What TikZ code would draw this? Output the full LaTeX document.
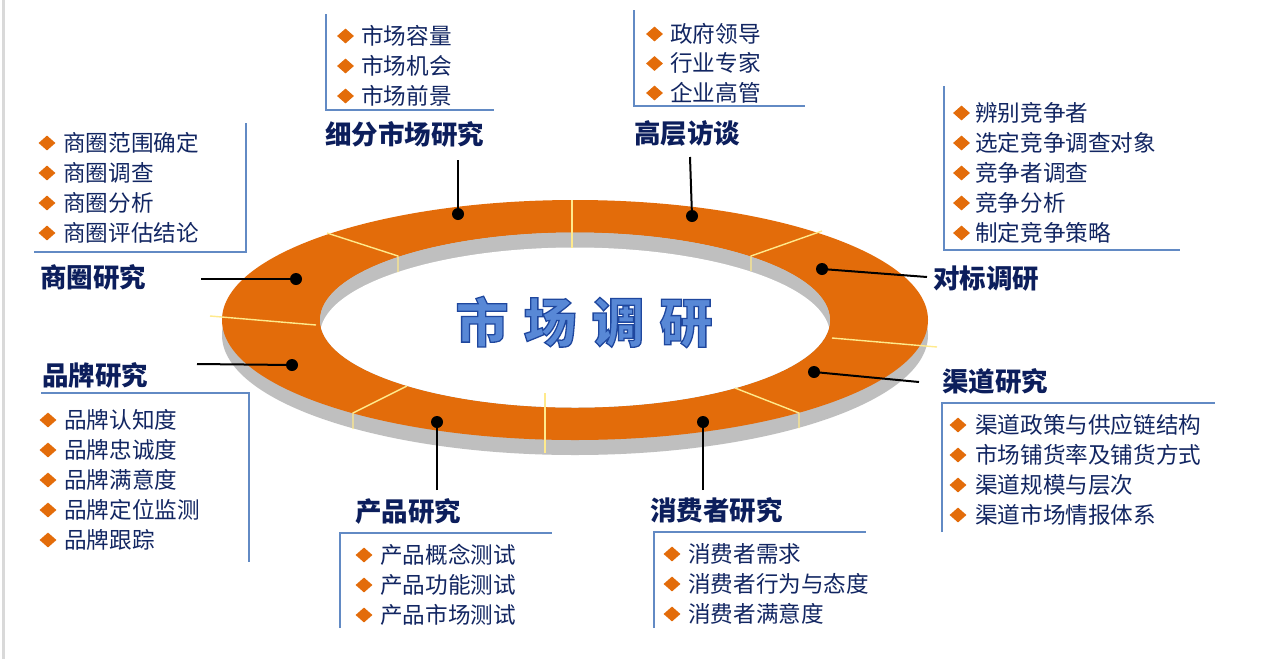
\documentclass[tikz,border=0pt]{standalone}
\usepackage{fontspec}
\setmainfont{Noto Sans CJK SC}
\newfontfamily\cjk{Noto Sans CJK SC}
\usetikzlibrary{shapes.geometric}
\definecolor{ringorange}{RGB}{227,108,10}
\definecolor{ringgray}{RGB}{191,191,191}
\definecolor{divyellow}{RGB}{255,234,140}
\definecolor{boxblue}{RGB}{98,138,196}
\definecolor{navy}{RGB}{18,38,98}
\definecolor{headnavy}{RGB}{12,30,92}
\definecolor{titleblue}{RGB}{88,136,214}
\definecolor{framegray}{RGB}{217,217,217}
\newcommand{\outlinedtext}[1]{\special{pdf:literal direct q 2 Tr 1.3 w 0.12 0.28 0.62 RG}#1\special{pdf:literal direct Q}}
\tikzset{
  item/.style={anchor=west, inner sep=0pt, text=navy, font=\cjk\fontsize{22.6}{26}\selectfont, text height=19pt, text depth=3pt},
  head/.style={anchor=west, inner sep=0pt, text=headnavy, font=\cjk\bfseries\fontsize{26.5}{30}\selectfont, text height=23pt, text depth=3pt},
  dia/.style={diamond, fill=ringorange, inner sep=0pt, minimum width=17pt, minimum height=15pt},
  dot/.style={circle, fill=black, inner sep=0pt, minimum size=12pt},
  conn/.style={line width=2pt, black},
  boxline/.style={line width=1.5pt, boxblue},
  divider/.style={line width=1.4pt, divyellow},
  title/.style={inner sep=0pt, text=titleblue, font=\cjk\bfseries\fontsize{53}{56}\selectfont}
}
\begin{document}
\begin{tikzpicture}[x=1pt,y=-1pt]
\useasboundingbox (0,0) rectangle (1263,659);
\fill[white] (0,0) rectangle (1263,659);
\draw[framegray, line width=3pt] (3,0) -- (3,659);

% ring
\fill[ringgray] (575,335) ellipse [x radius=353pt, y radius=120pt];
\fill[ringorange, even odd rule] (575,320) ellipse [x radius=353pt, y radius=120pt]
     (575,320) ellipse [x radius=255pt, y radius=87.5pt];
\fill[ringgray] (575,320) ellipse [x radius=255pt, y radius=87.5pt];
\begin{scope}
  \clip (575,320) ellipse [x radius=255pt, y radius=87.5pt];
  \fill[white] (575,335) ellipse [x radius=255pt, y radius=87.5pt];
\end{scope}

% dividers
\draw[divider] (572,200) -- (572,248);
\draw[divider] (327,233) -- (398,256) -- (398,272);
\draw[divider] (210,316) -- (316,325);
\draw[divider] (822,231) -- (751,256) -- (751,271);
\draw[divider] (832,338) -- (937,347);
\draw[divider] (735,388) -- (799,413) -- (799,428);
\draw[divider] (545,393) -- (545,453);
\draw[divider] (407,386) -- (353,413) -- (353,429);

% title
\node[title] (title) at (584,322) {\outlinedtext{市\hspace{15pt}场\hspace{15pt}调\hspace{15pt}研}};

% box lines
\draw[boxline] (326,14) -- (326,110) -- (494,110);
\draw[boxline] (634,10) -- (634,106) -- (805,106);
\draw[boxline] (944,86) -- (944,250) -- (1180,250);
\draw[boxline] (246,123) -- (246,252) -- (34,252);
\draw[boxline] (41,393) -- (249,393) -- (249,562);
\draw[boxline] (340,628) -- (340,533) -- (552,533);
\draw[boxline] (654,628) -- (654,532) -- (866,532);
\draw[boxline] (942,532) -- (942,403) -- (1215,403);

% headings
\node[head] (hA) at (325,134) {细分市场研究};
\node[head] (hB) at (634,133) {高层访谈};
\node[head] (hC) at (933,278) {对标调研};
\node[head] (hH) at (942,381) {渠道研究};
\node[head] (hG) at (650,510) {消费者研究};
\node[head] (hF) at (355,511) {产品研究};
\node[head] (hE) at (42,375) {品牌研究};
\node[head] (hD) at (40,277) {商圈研究};

% dots and connectors
\node[dot] (d1) at (458,214) {};
\node[dot] (d2) at (692,216) {};
\node[dot] (d3) at (822,269) {};
\node[dot] (d4) at (814,372) {};
\node[dot] (d5) at (703,422) {};
\node[dot] (d6) at (437,422) {};
\node[dot] (d7) at (292,365) {};
\node[dot] (d8) at (296,279) {};
\coordinate (c1) at (458,160);
\coordinate (c2) at (690,157);
\coordinate (c3) at (927,277);
\coordinate (c4) at (919,382);
\coordinate (c5) at (703,490);
\coordinate (c6) at (437,490);
\coordinate (c7) at (197,364);
\coordinate (c8) at (201,279);
\foreach \k in {1,...,8} { \draw[conn] (c\k) -- (d\k.center); }

% lists
\foreach \t [count=\i] in {市场容量,市场机会,市场前景} {
  \node[dia] (Ad\i) at (345.5,36+30*\i-30) {};
  \node[item] (A\i) at (361,36+30*\i-30) {\t};
}
\foreach \t [count=\i] in {政府领导,行业专家,企业高管} {
  \node[dia] (Bd\i) at (654.5,34+29.5*\i-29.5) {};
  \node[item] (B\i) at (670,34+29.5*\i-29.5) {\t};
}
\foreach \t [count=\i] in {辨别竞争者,选定竞争调查对象,竞争者调查,竞争分析,制定竞争策略} {
  \node[dia] (Cd\i) at (961.5,113+30*\i-30) {};
  \node[item] (C\i) at (975,113+30*\i-30) {\t};
}
\foreach \t [count=\i] in {商圈范围确定,商圈调查,商圈分析,商圈评估结论} {
  \node[dia] (Dd\i) at (47,143+30*\i-30) {};
  \node[item] (D\i) at (63,143+30*\i-30) {\t};
}
\foreach \t [count=\i] in {品牌认知度,品牌忠诚度,品牌满意度,品牌定位监测,品牌跟踪} {
  \node[dia] (Ed\i) at (48,420+30*\i-30) {};
  \node[item] (E\i) at (64,420+30*\i-30) {\t};
}
\foreach \t [count=\i] in {产品概念测试,产品功能测试,产品市场测试} {
  \node[dia] (Fd\i) at (364,555+30*\i-30) {};
  \node[item] (F\i) at (380,555+30*\i-30) {\t};
}
\foreach \t [count=\i] in {消费者需求,消费者行为与态度,消费者满意度} {
  \node[dia] (Gd\i) at (672,554+30*\i-30) {};
  \node[item] (G\i) at (688,554+30*\i-30) {\t};
}
\foreach \t [count=\i] in {渠道政策与供应链结构,市场铺货率及铺货方式,渠道规模与层次,渠道市场情报体系} {
  \node[dia] (Hd\i) at (958,425+30*\i-30) {};
  \node[item] (H\i) at (975,425+30*\i-30) {\t};
}
\end{tikzpicture}
\end{document}
